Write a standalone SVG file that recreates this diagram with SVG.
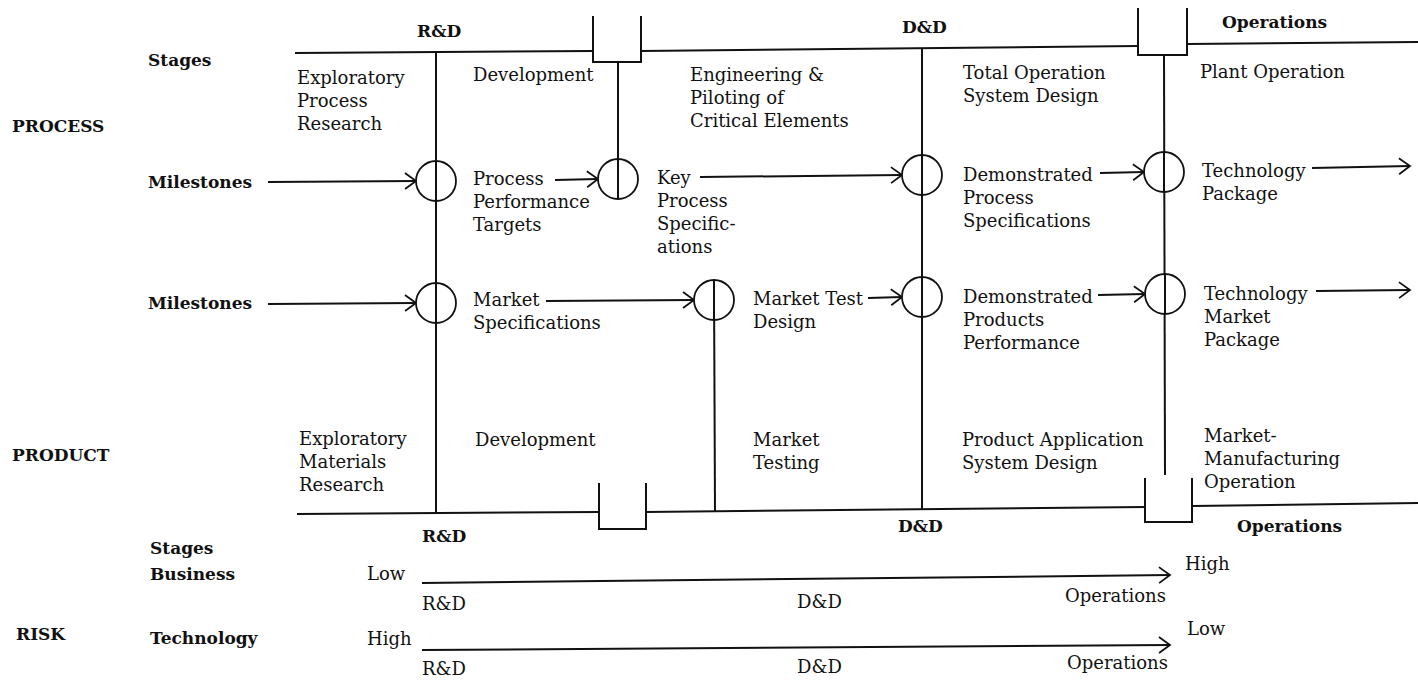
<svg xmlns="http://www.w3.org/2000/svg" width="1418" height="681" viewBox="0 0 1418 681">
<style>
.t{font-family:"DejaVu Serif","Liberation Serif",serif;font-size:18px;fill:#111}
.b{font-family:"DejaVu Serif","Liberation Serif",serif;font-size:17px;font-weight:bold;fill:#111}
.ln{fill:none;stroke:#111;stroke-width:2}
.ar{fill:none;stroke:#111;stroke-width:2;marker-end:url(#ah)}
.c{fill:#fff;stroke:#111;stroke-width:1.8}
</style>
<defs>
<marker id="ah" markerUnits="userSpaceOnUse" markerWidth="14" markerHeight="20" refX="12" refY="10" orient="auto">
<path d="M1,2 L12,10 L1,18" fill="none" stroke="#111" stroke-width="1.8"/>
</marker>
</defs>
<rect width="1418" height="681" fill="#fff"/>

<g id="connectors">
<path class="ln" d="M295,53 L593,51"/>
<path class="ln" d="M593,16 V62 H641 V16"/>
<path class="ln" d="M641,51 L1138,46"/>
<path class="ln" d="M1138,8 V55 H1187 V8"/>
<path class="ln" d="M1187,44 L1418,42"/>
<path class="ln" d="M297,514 L599,512"/>
<path class="ln" d="M599,483 V529 H646 V483"/>
<path class="ln" d="M646,512 L1145,507"/>
<path class="ln" d="M1145,478 V522 H1192 V478"/>
<path class="ln" d="M1192,506 L1418,503"/>
<path class="ln" d="M436,53 L436,513"/>
<path class="ln" d="M618,62 L618,199"/>
<path class="ln" d="M922,48 L922,510"/>
<path class="ln" d="M1164,55 L1165,475"/>
<path class="ln" d="M714,280 L715,512"/>
<path class="ar" d="M268,182 L416,181"/>
<path class="ar" d="M555,180 L598,179"/>
<path class="ar" d="M700,177 L902,175"/>
<path class="ar" d="M1100,173 L1144,172"/>
<path class="ar" d="M1312,168 L1410,166"/>
<path class="ar" d="M268,304 L416,303"/>
<path class="ar" d="M546,301 L694,300"/>
<path class="ar" d="M868,298 L902,297"/>
<path class="ar" d="M1098,295 L1145,294"/>
<path class="ar" d="M1316,291 L1410,290"/>
<path class="ar" d="M422,583 L1170,575"/>
<path class="ar" d="M422,650 L1170,645"/>
</g>

<g id="circles">
<circle id="m1" class="c" cx="436" cy="181" r="20"/>
<circle id="m2" class="c" cx="618" cy="179" r="20"/>
<circle id="m3" class="c" cx="922" cy="175" r="20"/>
<circle id="m4" class="c" cx="1164" cy="172" r="20"/>
<circle id="m5" class="c" cx="436" cy="303" r="20"/>
<circle id="m6" class="c" cx="714" cy="300" r="20"/>
<circle id="m7" class="c" cx="922" cy="297" r="20"/>
<circle id="m8" class="c" cx="1165" cy="294" r="20"/>
</g>
<g id="circle-lines">
<path class="ln" d="M436,161 V201 M618,159 V199 M922,155 V195 M1164,152 V192 M436,283 V323 M714,280 V320 M922,277 V317 M1165,274 V314"/>
</g>

<g id="row-labels">
<text class="b" x="12" y="132">PROCESS</text>
<text class="b" x="12" y="461">PRODUCT</text>
<text class="b" x="16" y="640">RISK</text>
<text class="b" x="148" y="66">Stages</text>
<text class="b" x="148" y="188">Milestones</text>
<text class="b" x="148" y="309">Milestones</text>
<text class="b" x="150" y="554">Stages</text>
<text class="b" x="150" y="580">Business</text>
<text class="b" x="150" y="644">Technology</text>
</g>

<g id="phase-labels">
<text class="b" x="417" y="37">R&amp;D</text>
<text class="b" x="902" y="33">D&amp;D</text>
<text class="b" x="1222" y="28">Operations</text>
<text class="b" x="422" y="542">R&amp;D</text>
<text class="b" x="898" y="532">D&amp;D</text>
<text class="b" x="1237" y="532">Operations</text>
</g>

<g id="process-stages">
<text class="t" x="297" y="84">Exploratory</text>
<text class="t" x="297" y="107">Process</text>
<text class="t" x="297" y="130">Research</text>
<text class="t" x="473" y="81">Development</text>
<text class="t" x="690" y="81">Engineering &amp;</text>
<text class="t" x="690" y="104">Piloting of</text>
<text class="t" x="690" y="127">Critical Elements</text>
<text class="t" x="963" y="79">Total Operation</text>
<text class="t" x="963" y="102">System Design</text>
<text class="t" x="1200" y="78">Plant Operation</text>
</g>

<g id="process-milestones">
<text class="t" x="473" y="185">Process</text>
<text class="t" x="473" y="208">Performance</text>
<text class="t" x="473" y="231">Targets</text>
<text class="t" x="657" y="184">Key</text>
<text class="t" x="657" y="207">Process</text>
<text class="t" x="657" y="230">Specific-</text>
<text class="t" x="657" y="253">ations</text>
<text class="t" x="963" y="181">Demonstrated</text>
<text class="t" x="963" y="204">Process</text>
<text class="t" x="963" y="227">Specifications</text>
<text class="t" x="1202" y="177">Technology</text>
<text class="t" x="1202" y="200">Package</text>
</g>

<g id="product-milestones">
<text class="t" x="473" y="306">Market</text>
<text class="t" x="473" y="329">Specifications</text>
<text class="t" x="753" y="305">Market Test</text>
<text class="t" x="753" y="328">Design</text>
<text class="t" x="963" y="303">Demonstrated</text>
<text class="t" x="963" y="326">Products</text>
<text class="t" x="963" y="349">Performance</text>
<text class="t" x="1204" y="300">Technology</text>
<text class="t" x="1204" y="323">Market</text>
<text class="t" x="1204" y="346">Package</text>
</g>

<g id="product-stages">
<text class="t" x="299" y="445">Exploratory</text>
<text class="t" x="299" y="468">Materials</text>
<text class="t" x="299" y="491">Research</text>
<text class="t" x="475" y="446">Development</text>
<text class="t" x="753" y="446">Market</text>
<text class="t" x="753" y="469">Testing</text>
<text class="t" x="962" y="446">Product Application</text>
<text class="t" x="962" y="469">System Design</text>
<text class="t" x="1204" y="442">Market-</text>
<text class="t" x="1204" y="465">Manufacturing</text>
<text class="t" x="1204" y="488">Operation</text>
</g>

<g id="risk-business">
<text class="t" x="367" y="580">Low</text>
<text class="t" x="1185" y="570">High</text>
<text class="t" x="422" y="610">R&amp;D</text>
<text class="t" x="797" y="608">D&amp;D</text>
<text class="t" x="1065" y="602">Operations</text>
</g>
<g id="risk-technology">
<text class="t" x="367" y="645">High</text>
<text class="t" x="1187" y="635">Low</text>
<text class="t" x="422" y="675">R&amp;D</text>
<text class="t" x="797" y="673">D&amp;D</text>
<text class="t" x="1067" y="669">Operations</text>
</g>
</svg>
